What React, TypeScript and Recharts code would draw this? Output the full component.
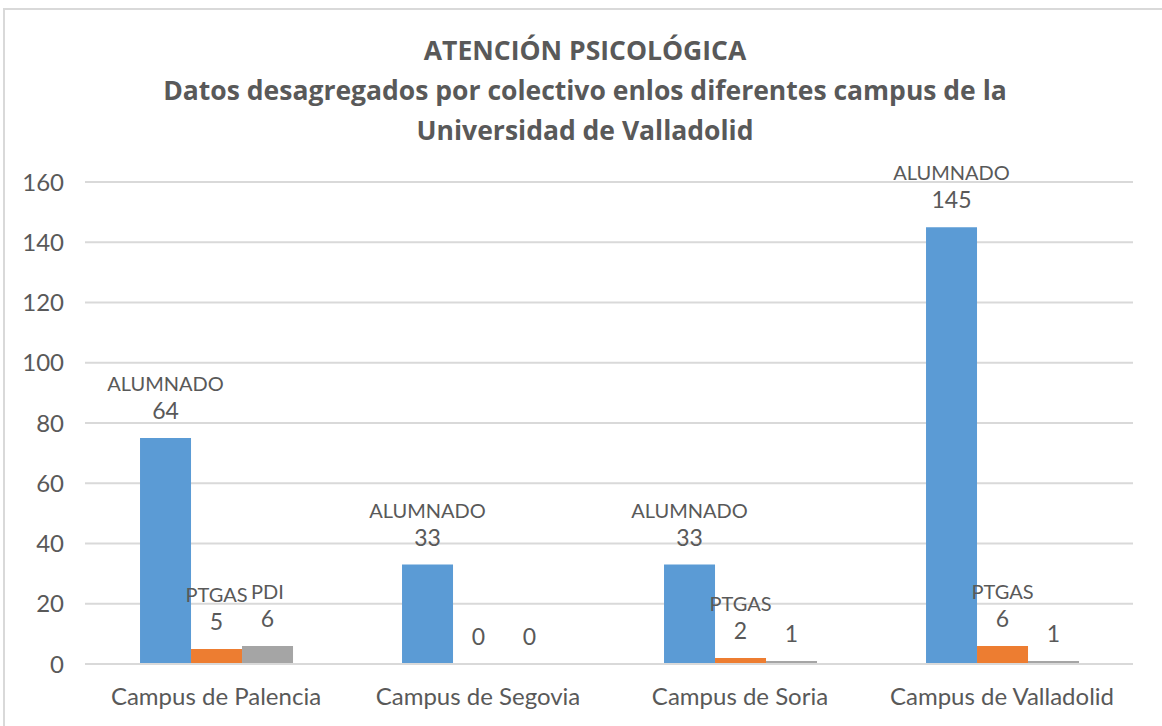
import React from "react";
import { BarChart, Bar, XAxis, YAxis, CartesianGrid, LabelList } from "recharts";

const CAMPUS = ["Campus de Palencia", "Campus de Segovia", "Campus de Soria", "Campus de Valladolid"];

// bar heights as drawn
const ALUMNADO = [75, 33, 33, 145];
const PTGAS = [5, 0, 2, 6];
const PDI = [6, 0, 1, 1];

// label texts as printed on the chart (Palencia label says 64 although the bar reaches 75)
const ALUMNADO_TEXT = ["64", "33", "33", "145"];
const PTGAS_TEXT = ["5", "0", "2", "6"];
const PDI_TEXT = ["6", "0", "1", "1"];

// series name shown over the value, per campus
const ALUMNADO_NAME = ["ALUMNADO", "ALUMNADO", "ALUMNADO", "ALUMNADO"];
const PTGAS_NAME = ["PTGAS", "", "PTGAS", "PTGAS"];
const PDI_NAME = ["PDI", "", "", ""];

const Y_TICKS = [0, 20, 40, 60, 80, 100, 120, 140, 160];

const TEXT = "#595959";
const GRID = "#d9d9d9";
const FONT = "Lato, 'Open Sans', sans-serif";

const data = CAMPUS.map((campus, i) => ({
  campus,
  alumnado: ALUMNADO[i],
  ptgas: PTGAS[i],
  pdi: PDI[i],
}));

function makeLabel(names: string[], texts: string[]) {
  return (props: any) => {
    const { x, y, width, index } = props;
    const cx = Number(x) + Number(width) / 2;
    const top = Number(y);
    const name = names[index];
    return (
      <g>
        {name ? (
          <text x={cx} y={top - 55} textAnchor="middle" dominantBaseline="central" fill={TEXT} fontSize={20} fontFamily={FONT}>
            {name}
          </text>
        ) : null}
        <text x={cx} y={top - 28} textAnchor="middle" dominantBaseline="central" fill={TEXT} fontSize={23} fontFamily={FONT}>
          {texts[index]}
        </text>
      </g>
    );
  };
}

export default function App() {
  return (
    <div style={{ position: "absolute", left: 0, top: 0, width: 1162, height: 726, background: "#fff", overflow: "hidden" }}>
      {/* chart frame */}
      <div
        style={{
          position: "absolute",
          left: 3,
          top: 8,
          width: 1200,
          height: 760,
          borderTop: `2px solid ${GRID}`,
          borderLeft: `2px solid ${GRID}`,
        }}
      />
      <div
        style={{
          position: "absolute",
          left: 0,
          top: 30,
          width: 1170,
          textAlign: "center",
          fontFamily: "'Open Sans', sans-serif",
          fontWeight: 700,
          fontSize: 26.5,
          lineHeight: "40px",
          color: TEXT,
        }}
      >
        <div>ATENCIÓN PSICOLÓGICA</div>
        <div>Datos desagregados por colectivo enlos diferentes campus de la</div>
        <div>Universidad de Valladolid</div>
      </div>
      <div style={{ position: "absolute", left: 0, top: 0 }}>
        <BarChart
          width={1162}
          height={726}
          data={data}
          margin={{ top: 182, right: 29, bottom: 12, left: 25 }}
          barCategoryGap="21%"
          barGap={0}
        >
          <CartesianGrid vertical={false} stroke={GRID} strokeWidth={2} />
          <XAxis
            dataKey="campus"
            axisLine={{ stroke: GRID, strokeWidth: 2 }}
            tickLine={false}
            height={50}
            tickMargin={18}
            tick={{ fill: TEXT, fontSize: 24, fontFamily: FONT }}
          />
          <YAxis
            domain={[0, 160]}
            ticks={Y_TICKS}
            width={60}
            axisLine={false}
            tickLine={false}
            tickMargin={15}
            tick={{ fill: TEXT, fontSize: 24, fontFamily: FONT }}
          />
          <Bar dataKey="alumnado" fill="#5b9bd5" minPointSize={0.01} isAnimationActive={false}>
            <LabelList dataKey="alumnado" content={makeLabel(ALUMNADO_NAME, ALUMNADO_TEXT)} />
          </Bar>
          <Bar dataKey="ptgas" fill="#ed7d31" minPointSize={0.01} isAnimationActive={false}>
            <LabelList dataKey="ptgas" content={makeLabel(PTGAS_NAME, PTGAS_TEXT)} />
          </Bar>
          <Bar dataKey="pdi" fill="#a5a5a5" minPointSize={0.01} isAnimationActive={false}>
            <LabelList dataKey="pdi" content={makeLabel(PDI_NAME, PDI_TEXT)} />
          </Bar>
        </BarChart>
      </div>
    </div>
  );
}
